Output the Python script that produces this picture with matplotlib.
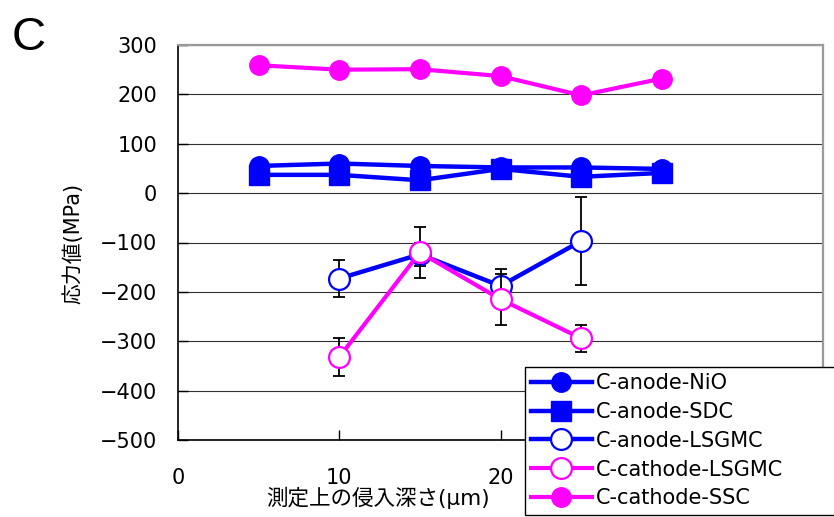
import matplotlib
matplotlib.use("Agg")
import matplotlib.pyplot as plt

plt.rcParams['font.family'] = ['DejaVu Sans', 'Noto Sans CJK JP']

# Penetration depth (μm)
depth = [5, 10, 15, 20, 25, 30]
depth_lsgmc = [10, 15, 20, 25]

# Residual stress (MPa) and standard deviations
anode_nio = [55, 60, 55, 52, 52, 49]
anode_nio_err = [4, 4, 4, 4, 4, 4]
anode_sdc = [37, 37, 26, 49, 33, 41]
anode_sdc_err = [4, 4, 4, 4, 4, 4]
anode_lsgmc = [-173, -124, -188, -97]
anode_lsgmc_err = [37, 23, 34, 90]
cathode_lsgmc = [-332, -120, -215, -294]
cathode_lsgmc_err = [39, 51, 52, 27]
cathode_ssc = [259, 250, 251, 237, 198, 232]
cathode_ssc_err = [5, 5, 5, 5, 5, 5]

labels = ["C-anode-NiO", "C-anode-SDC", "C-anode-LSGMC",
          "C-cathode-LSGMC", "C-cathode-SSC"]
xticks = [0, 10, 20, 30, 40]
xticklabels = ["0", "10", "20", "", ""]   # 30 and 40 sit under the legend box
yticks = [-500, -400, -300, -200, -100, 0, 100, 200, 300]

BLUE = "#0000FF"
MAGENTA = "#FF00FF"

W, H = 834, 517
fig = plt.figure(figsize=(W / 100, H / 100), dpi=100)
ax = fig.add_axes([178 / W, 1 - 440 / H, (823 - 178) / W, (440 - 45) / H])

err_kw = dict(ecolor="black", elinewidth=1.3, capsize=4.5, capthick=1.3)

series = [
    (depth, anode_nio, anode_nio_err, dict(color=BLUE, marker="o", ms=14,
                                           mfc=BLUE, mec=BLUE, lw=3.2)),
    (depth, anode_sdc, anode_sdc_err, dict(color=BLUE, marker="s", ms=14,
                                           mfc=BLUE, mec=BLUE, lw=3.2)),
    (depth_lsgmc, anode_lsgmc, anode_lsgmc_err, dict(color=BLUE, marker="o", ms=15,
                                                     mfc="white", mec=BLUE, mew=1.6, lw=3.2)),
    (depth_lsgmc, cathode_lsgmc, cathode_lsgmc_err, dict(color=MAGENTA, marker="o", ms=15,
                                                         mfc="white", mec=MAGENTA, mew=1.6, lw=3.0)),
    (depth, cathode_ssc, cathode_ssc_err, dict(color=MAGENTA, marker="o", ms=14,
                                               mfc=MAGENTA, mec=MAGENTA, lw=3.0)),
]

handles = []
for i, (x, y, e, style) in enumerate(series):
    base = 3 + i * 0.1
    ax.errorbar(x, y, yerr=e, fmt="none", zorder=base, **err_kw)
    h, = ax.plot(x, y, zorder=base + 0.05, label=labels[i], **style)
    handles.append(h)

ax.set_xlim(0, 40)
ax.set_ylim(-500, 300)
ax.set_xticks(xticks)
ax.set_xticklabels(xticklabels)
ax.set_yticks(yticks)
ax.set_yticklabels([f"{v}".replace("-", "\u2212") for v in yticks])

ax.grid(axis="y", color="#303030", lw=0.8, zorder=1)
ax.set_axisbelow(True)
ax.tick_params(axis="both", direction="in", length=7, width=1, labelsize=15,
               colors="black")
ax.tick_params(axis="y", pad=15)
ax.tick_params(axis="x", pad=20)

for side in ("top", "right"):
    ax.spines[side].set_color("#9a9a9a")
    ax.spines[side].set_linewidth(1.6)
for side in ("left", "bottom"):
    ax.spines[side].set_color("black")
    ax.spines[side].set_linewidth(1.2)

# axis titles placed in figure pixels
fig.text(73 / W, 1 - 243 / H, "応力値(MPa)", fontsize=15, rotation=90,
         ha="center", va="center")
fig.text(378 / W, 1 - 498 / H, "測定上の侵入深さ(μm)", fontsize=15.5,
         ha="center", va="center")

leg = ax.legend(handles=handles, loc="upper left",
                bbox_to_anchor=(525 / W, 1 - 367 / H, 330 / W, 0.0),
                bbox_transform=fig.transFigure, mode="expand",
                fontsize=15, frameon=True, fancybox=False, framealpha=1,
                edgecolor="black", handlelength=2.9, handletextpad=0.2,
                labelspacing=0.42, borderpad=0.3, borderaxespad=0)
leg.get_frame().set_linewidth(1.0)
leg.set_zorder(10)

fig.text(12 / W, 1 - 50 / H, "C", fontsize=34, family="Liberation Sans",
         ha="left", va="baseline")

fig.savefig("out.png", dpi=100)
